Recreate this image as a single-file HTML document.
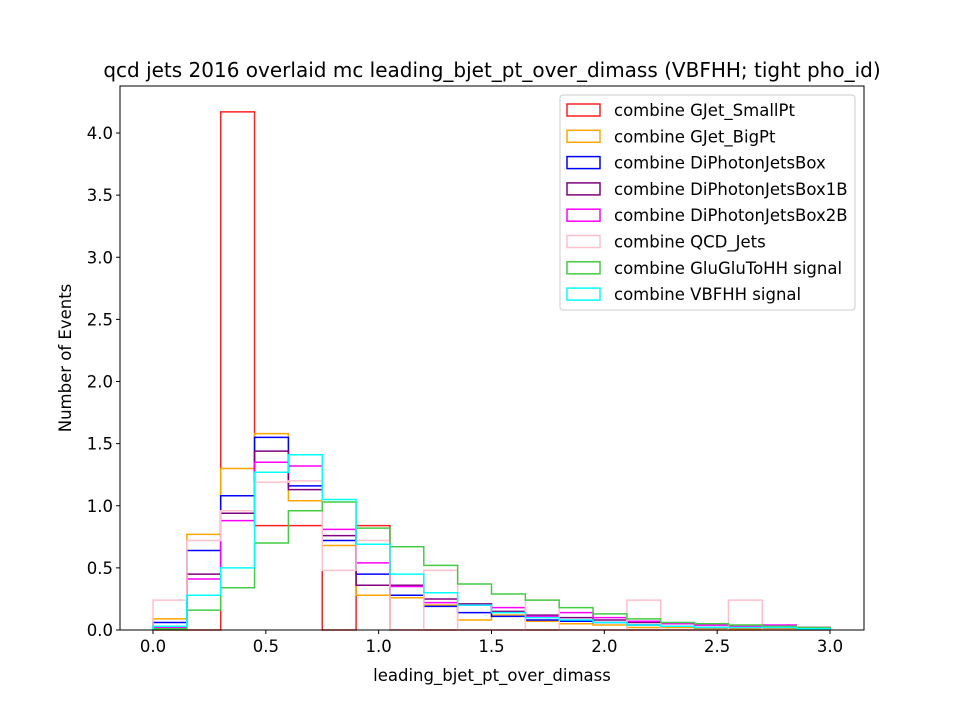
<!DOCTYPE html>
<html><head><meta charset="utf-8"><style>body{margin:0;background:#fff}svg{font-family:"DejaVu Sans","Liberation Sans",sans-serif}</style></head>
<body>
<svg id="c" width="960" height="720"></svg>
<script>
const binEdgesStart = 0, binWidth = 0.15;
const seriesNames = ["combine GJet_SmallPt","combine GJet_BigPt","combine DiPhotonJetsBox","combine DiPhotonJetsBox1B","combine DiPhotonJetsBox2B","combine QCD_Jets","combine GluGluToHH signal","combine VBFHH signal"];
const seriesColors = ["#ff2020","orange","blue","purple","magenta","pink","#44cc44","cyan"];
const gjetSmall = [0,0,4.17,0.84,0.84,0,0.84,0,0,0,0,0,0,0,0,0,0,0,0,0];
const gjetBig = [0.09,0.77,1.30,1.58,1.04,0.68,0.28,0.26,0.20,0.08,0.12,0.07,0.05,0.04,0.02,0.02,0.01,0.01,0.01,0.01];
const diphoton = [0.06,0.64,1.08,1.55,1.16,0.72,0.45,0.28,0.19,0.14,0.11,0.08,0.07,0.06,0.04,0.03,0.02,0.02,0.02,0.01];
const diphoton1B = [0.03,0.45,0.94,1.44,1.13,0.76,0.36,0.36,0.25,0.21,0.15,0.12,0.10,0.08,0.06,0.05,0.04,0.03,0.03,0.02];
const diphoton2B = [0.02,0.41,0.88,1.35,1.32,0.81,0.54,0.35,0.22,0.20,0.18,0.11,0.14,0.10,0.07,0.05,0.04,0.03,0.04,0.02];
const qcdJets = [0.24,0.72,0.96,1.19,1.20,0.48,0.72,0,0.48,0,0,0.24,0,0,0.24,0,0,0.24,0,0];
const gluglu = [0.01,0.16,0.34,0.70,0.96,1.03,0.82,0.67,0.52,0.37,0.29,0.24,0.18,0.13,0.09,0.06,0.05,0.04,0.03,0.02];
const vbf = [0.03,0.28,0.50,1.27,1.41,1.05,0.69,0.45,0.30,0.20,0.14,0.10,0.08,0.06,0.04,0.03,0.02,0.02,0.02,0.01];
const allSeries = [gjetSmall,gjetBig,diphoton,diphoton1B,diphoton2B,qcdJets,gluglu,vbf];
const xTicks = [0,0.5,1.0,1.5,2.0,2.5,3.0];
const yTicks = [0,0.5,1.0,1.5,2.0,2.5,3.0,3.5,4.0];

const NS="http://www.w3.org/2000/svg", svg=document.getElementById('c');
const L=120,R=864,T=86,B=630;
const X=v=>153+v*(830-153)/3;
const Y=v=>630-v*(630-133)/4;
function mk(t,a,p){const e=document.createElementNS(NS,t);for(const k in a)e.setAttribute(k,a[k]);(p||svg).appendChild(e);return e;}
allSeries.forEach((s,i)=>{
  let d="M"+X(binEdgesStart)+","+Y(0);
  s.forEach((v,j)=>{const x0=X(binEdgesStart+j*binWidth),x1=X(binEdgesStart+(j+1)*binWidth);d+=" L"+x0+","+Y(v)+" L"+x1+","+Y(v);});
  d+=" L"+X(binEdgesStart+s.length*binWidth)+","+Y(0);
  const p=mk('path',{d:d,fill:'none',stroke:seriesColors[i],'stroke-width':1.5});
  
  
});
const fr=mk('rect',{x:L,y:T,width:R-L,height:B-T,fill:'none',stroke:'#000','stroke-width':1});


xTicks.forEach(v=>{mk('line',{x1:X(v),x2:X(v),y1:B,y2:B+4,stroke:'#000'});
  const t=mk('text',{x:X(v),y:B+22,'text-anchor':'middle','font-size':16.5});t.textContent=v.toFixed(1);
  
  });
yTicks.forEach(v=>{mk('line',{x1:L-4,x2:L,y1:Y(v),y2:Y(v),stroke:'#000'});
  const t=mk('text',{x:L-7,y:Y(v)+6,'text-anchor':'end','font-size':16.5});t.textContent=v.toFixed(1);
  
  });
let t=mk('text',{x:492,y:681,'text-anchor':'middle','font-size':16.5});t.textContent="leading_bjet_pt_over_dimass";


t=mk('text',{x:71,y:358,'text-anchor':'middle','font-size':16.5,transform:'rotate(-90 71 358)'});t.textContent="Number of Events";


t=mk('text',{x:492,y:77,'text-anchor':'middle','font-size':20});t.textContent="qcd jets 2016 overlaid mc leading_bjet_pt_over_dimass (VBFHH; tight pho_id)";


const lg=mk('rect',{x:560,y:95,width:295,height:215,fill:'#fff',stroke:'#ccc',rx:3});


seriesNames.forEach((n,i)=>{const y=110+i*26.3;
  mk('rect',{x:567,y:y-6,width:33,height:12,fill:'none',stroke:seriesColors[i],'stroke-width':1.5});
  const tt=mk('text',{x:614,y:y+6,'font-size':16.5});tt.textContent=n;
  
  });
</script>
</body></html>
